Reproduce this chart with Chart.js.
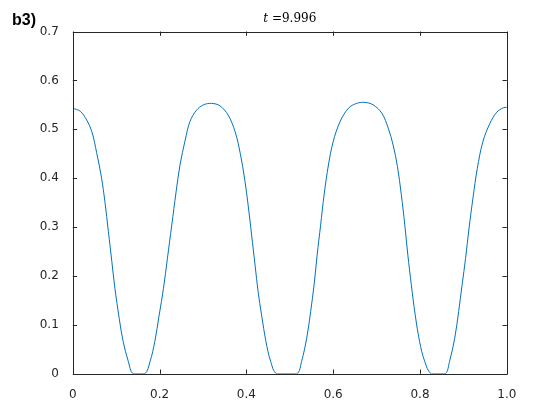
<!DOCTYPE html>
<html lang="en">
<head>
    <meta charset="UTF-8">
    <title>b3) t = 9.996</title>
    <style>
        body { margin: 0; padding: 0; background: #ffffff; }
        .wrap { position: relative; width: 560px; height: 420px; }
    </style>
</head>
<body>
    <div class="wrap">
        <canvas id="waveChart" width="560" height="420"></canvas>
    </div>

    <script src="https://cdn.jsdelivr.net/npm/chart.js"></script>
    <script>
        // Datos
        const xValues = [0, 0.017, 0.032, 0.044, 0.055, 0.066, 0.074, 0.082, 0.090, 0.097, 0.107, 0.116, 0.128, 0.139,
            0.166, 0.178, 0.189, 0.199, 0.209, 0.218, 0.228, 0.238, 0.247, 0.259, 0.270, 0.285, 0.301, 0.320, 0.339,
            0.358, 0.374, 0.386, 0.396, 0.404, 0.412, 0.420, 0.427, 0.435, 0.445, 0.456, 0.470,
            0.516, 0.527, 0.539, 0.548, 0.556, 0.563, 0.571, 0.579, 0.589, 0.600, 0.616, 0.635, 0.654, 0.673, 0.692,
            0.712, 0.727, 0.738, 0.748, 0.757, 0.765, 0.772, 0.780, 0.789, 0.799, 0.811, 0.826,
            0.858, 0.868, 0.880, 0.889, 0.897, 0.905, 0.913, 0.922, 0.932, 0.945, 0.961, 0.977, 0.992, 1.0];
        const yValues = [0.543, 0.537, 0.519, 0.495, 0.452, 0.402, 0.352, 0.291, 0.229, 0.175, 0.113, 0.066, 0.025, 0.0,
            0.0, 0.025, 0.066, 0.120, 0.175, 0.236, 0.304, 0.372, 0.427, 0.478, 0.516, 0.539, 0.550, 0.553, 0.548,
            0.529, 0.495, 0.450, 0.398, 0.345, 0.284, 0.222, 0.168, 0.120, 0.066, 0.025, 0.0,
            0.0, 0.025, 0.073, 0.127, 0.182, 0.243, 0.304, 0.366, 0.427, 0.475, 0.516, 0.543, 0.553, 0.555, 0.550,
            0.533, 0.502, 0.468, 0.424, 0.366, 0.304, 0.243, 0.182, 0.120, 0.066, 0.025, 0.0,
            0.0, 0.025, 0.073, 0.127, 0.182, 0.236, 0.298, 0.359, 0.420, 0.475, 0.512, 0.535, 0.544, 0.545];
        const xTicks = [0, 0.2, 0.4, 0.6, 0.8, 1];
        const yTicks = [0, 0.1, 0.2, 0.3, 0.4, 0.5, 0.6, 0.7];
        const panelLabel = 'b3)';
        const timeLabel = '9.996';

        const axisColor = '#262626';

        // caja estilo matlab con ticks hacia dentro
        const boxPlugin = {
            id: 'matlabBox',
            afterDraw(chart) {
                const c = chart.ctx;
                const a = chart.chartArea;
                const sx = chart.scales.x;
                const sy = chart.scales.y;
                const tl = 4.3;
                c.save();
                c.strokeStyle = axisColor;
                c.lineWidth = 1;
                c.beginPath();
                c.rect(Math.round(a.left) + 0.5, Math.round(a.top) + 0.5,
                    Math.round(a.right) - Math.round(a.left), Math.round(a.bottom) - Math.round(a.top));
                sx.ticks.forEach(t => {
                    const px = Math.round(sx.getPixelForValue(t.value)) + 0.5;
                    c.moveTo(px, a.bottom); c.lineTo(px, a.bottom - tl);
                    c.moveTo(px, a.top); c.lineTo(px, a.top + tl);
                });
                sy.ticks.forEach(t => {
                    const py = Math.round(sy.getPixelForValue(t.value)) + 0.5;
                    c.moveTo(a.left, py); c.lineTo(a.left + tl, py);
                    c.moveTo(a.right, py); c.lineTo(a.right - tl, py);
                });
                c.stroke();

                // etiqueta del panel
                c.fillStyle = '#000000';
                c.font = 'bold 16px "Liberation Sans", Arial, sans-serif';
                c.textBaseline = 'alphabetic';
                c.textAlign = 'left';
                c.fillText(panelLabel, 12, 25);

                // titulo: t en cursiva
                const it = 'italic 12px "DejaVu Serif", "Liberation Serif", serif';
                const rm = '12px "DejaVu Serif", "Liberation Serif", serif';
                c.font = it;
                const w1 = c.measureText('t ').width;
                c.font = rm;
                const w2 = c.measureText('=' + timeLabel).width;
                const cx = (a.left + a.right) / 2;
                const x0 = cx - (w1 + w2) / 2;
                c.font = it;
                c.fillText('t ', x0, 22);
                c.font = rm;
                c.fillText('=' + timeLabel, x0 + w1, 22);
                c.restore();
            }
        };

        const ctx = document.getElementById('waveChart').getContext('2d');
        const waveChart = new Chart(ctx, {
            type: 'line',
            data: {
                datasets: [{
                    data: xValues.map((x, i) => ({ x: x, y: yValues[i] })),
                    borderColor: '#0072BD',
                    borderWidth: 1,
                    pointRadius: 0,
                    fill: false,
                    tension: 0.35
                }]
            },
            options: {
                responsive: false,
                animation: false,
                layout: { padding: { left: 0, top: 31.5, right: 53.2, bottom: 0 } },
                plugins: {
                    legend: { display: false },
                    tooltip: { enabled: false }
                },
                scales: {
                    x: {
                        type: 'linear',
                        min: 0,
                        max: 1,
                        grid: { display: false },
                        border: { display: false },
                        afterBuildTicks: (s) => { s.ticks = xTicks.map(v => ({ value: v })); },
                        afterFit: (s) => { s.height = 46.2; },
                        ticks: {
                            color: axisColor,
                            padding: 6,
                            maxRotation: 0,
                            font: { family: '"DejaVu Sans", sans-serif', size: 12 }
                        }
                    },
                    y: {
                        min: 0,
                        max: 0.7,
                        grid: { display: false },
                        border: { display: false },
                        afterBuildTicks: (s) => { s.ticks = yTicks.map(v => ({ value: v })); },
                        afterFit: (s) => { s.width = 72.8; },
                        ticks: {
                            color: axisColor,
                            padding: 6,
                            font: { family: '"DejaVu Sans", sans-serif', size: 12 }
                        }
                    }
                }
            },
            plugins: [boxPlugin]
        });
    </script>
</body>
</html>
